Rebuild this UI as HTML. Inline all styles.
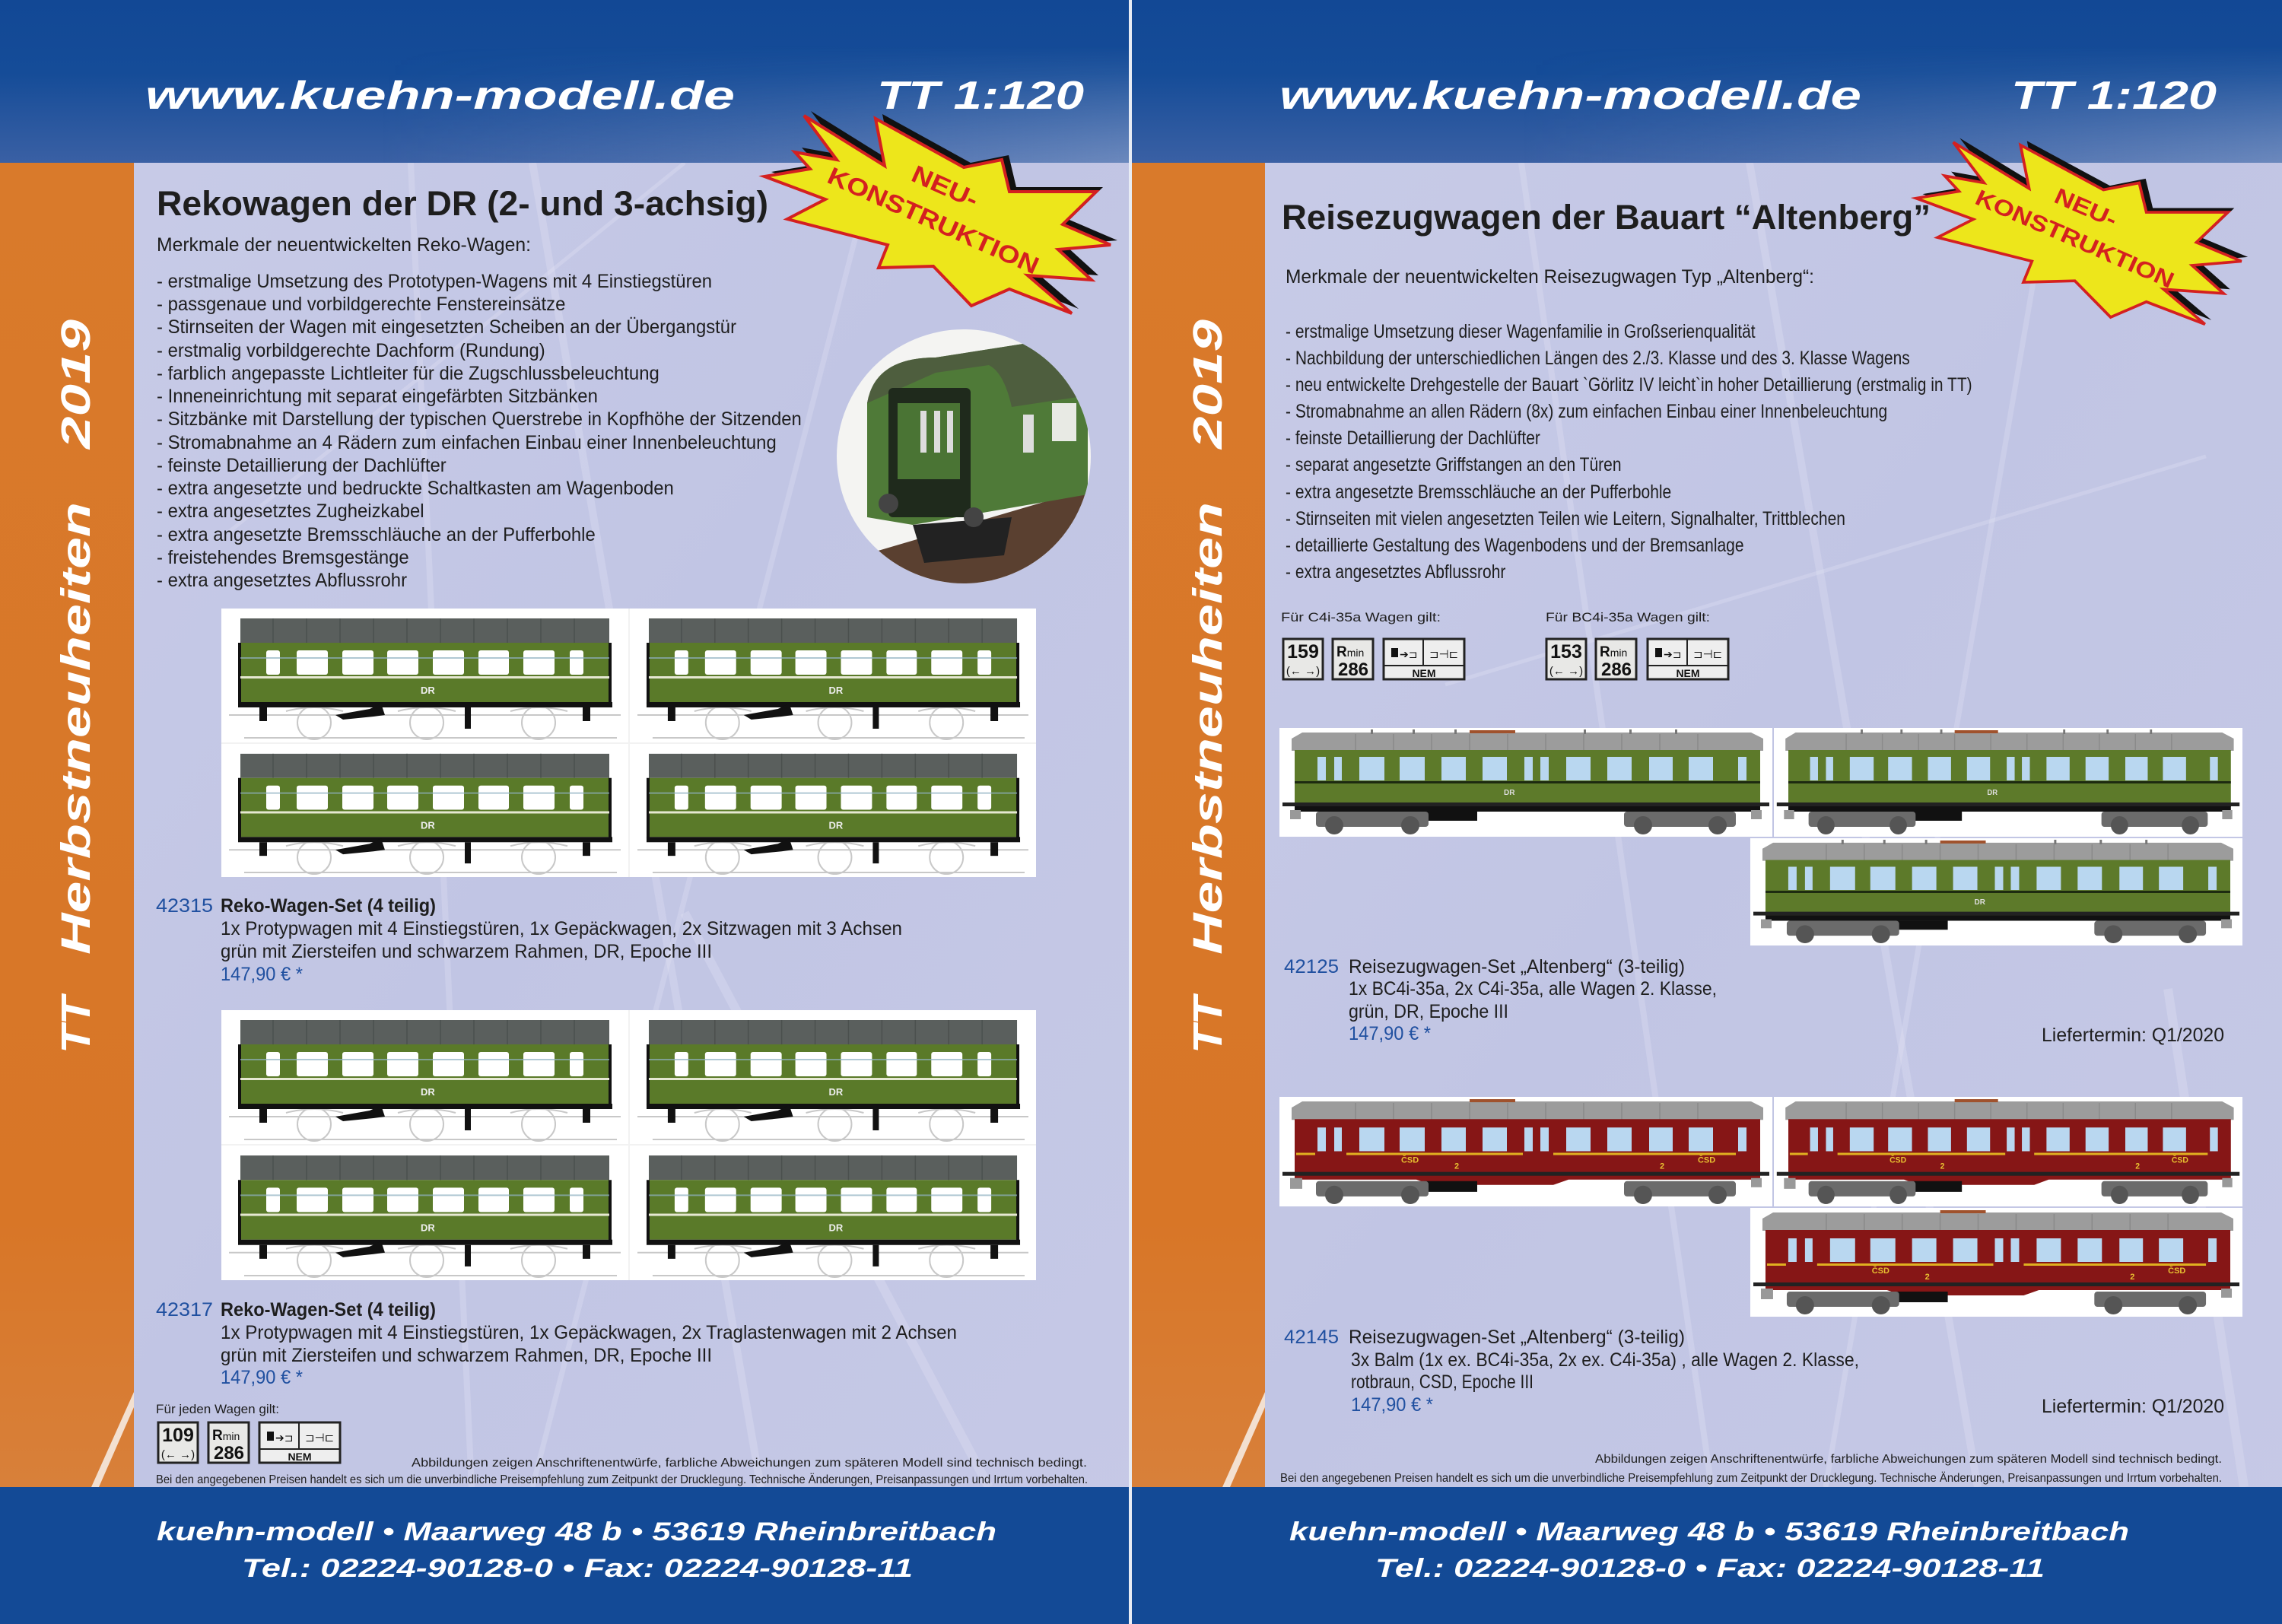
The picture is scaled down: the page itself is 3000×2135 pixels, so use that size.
<!DOCTYPE html>
<html><head><meta charset="utf-8"><style>
html,body{margin:0;padding:0;background:#fff}
svg{display:block}
</style></head><body>
<svg width="3000" height="2135" viewBox="0 0 3000 2135" xmlns="http://www.w3.org/2000/svg" font-family="Liberation Sans, sans-serif">
<defs>
<linearGradient id="hdr" x1="0" y1="0" x2="0" y2="1">
<stop offset="0" stop-color="#124895"/><stop offset="0.45" stop-color="#154c98"/><stop offset="1" stop-color="#3a60a4"/></linearGradient>
<linearGradient id="hdr2" x1="0" y1="0" x2="1" y2="0">
<stop offset="0" stop-color="#8fa6d0" stop-opacity="0"/><stop offset="0.6" stop-color="#8fa6d0" stop-opacity="0.3"/><stop offset="1" stop-color="#a9bbdc" stop-opacity="0.45"/></linearGradient>
<linearGradient id="hdrfade" x1="0" y1="0" x2="0" y2="1">
<stop offset="0" stop-color="#fff" stop-opacity="0"/><stop offset="1" stop-color="#fff" stop-opacity="1"/></linearGradient>
<mask id="fm"><rect x="0" y="60" width="3000" height="154" fill="url(#hdrfade)"/></mask>
<linearGradient id="cnt" x1="0" y1="0" x2="1" y2="1">
<stop offset="0" stop-color="#c9cce8"/><stop offset="0.5" stop-color="#c1c5e4"/><stop offset="1" stop-color="#c6c9e6"/></linearGradient>
<linearGradient id="org" x1="0" y1="0" x2="0" y2="1">
<stop offset="0" stop-color="#d97a2b"/><stop offset="0.8" stop-color="#d87627"/><stop offset="1" stop-color="#d8803a"/></linearGradient>

<symbol id="reko" viewBox="0 0 535 176" preserveAspectRatio="none">
<rect width="535" height="176" fill="#fff"/>
<g stroke="#c8c8c8" stroke-width="2" fill="none">
<circle cx="122" cy="150" r="22"/><circle cx="270" cy="150" r="22"/><circle cx="417" cy="150" r="22"/>
<path d="M10 140 H525 M30 170 H520 M85 135 Q122 125 160 135 M232 135 Q270 125 308 135 M380 135 Q417 125 455 135"/></g>
<rect x="25" y="13" width="485" height="32" fill="#5a5f5d"/>
<g stroke="#4b504e" stroke-width="1.5"><path d="M68 13V45M112 13V45M156 13V45M200 13V45M244 13V45M288 13V45M332 13V45M376 13V45M420 13V45M464 13V45"/></g>
<rect x="25" y="45" width="485" height="78" fill="#5a7a29"/>
<rect x="22" y="45" width="4" height="80" fill="#111"/><rect x="509" y="45" width="4" height="80" fill="#111"/>
<g fill="#fff"><rect x="59" y="55" width="18" height="32" rx="3"/><rect x="99" y="55" width="41" height="32" rx="3"/><rect x="159" y="55" width="41" height="32" rx="3"/><rect x="218" y="55" width="41" height="32" rx="3"/><rect x="278" y="55" width="41" height="32" rx="3"/><rect x="338" y="55" width="40" height="32" rx="3"/><rect x="397" y="55" width="41" height="32" rx="3"/><rect x="458" y="55" width="18" height="32" rx="3"/></g>
<rect x="25" y="64" width="485" height="2" fill="#8fb0c0" opacity="0.7"/>
<rect x="25" y="89" width="485" height="3" fill="#e6e8d2"/>
<text x="262" y="112" font-size="13" font-weight="bold" fill="#eee">DR</text>
<rect x="22" y="123" width="492" height="7" fill="#111"/>
<rect x="50" y="130" width="10" height="18" fill="#111"/><rect x="475" y="130" width="10" height="18" fill="#111"/>
<path d="M150 140 L195 132 L210 125 L215 140 L200 142 L160 146Z" fill="#111"/>
<rect x="320" y="130" width="8" height="28" fill="#111"/>
</symbol>

<symbol id="alt" viewBox="0 0 648 143" preserveAspectRatio="none">
<rect width="648" height="143" fill="#fff"/>
<path d="M16 14 L30 6 H620 L636 14 L636 30 H16Z" fill="#9c9c9c"/>
<g stroke="#8a8a8a" stroke-width="1.5"><path d="M100 8V30M150 8V30M200 8V30M250 8V30M300 8V30M350 8V30M400 8V30M450 8V30M500 8V30M550 8V30"/></g>
<g fill="#777"><rect x="120" y="2" width="3" height="6"/><rect x="175" y="2" width="3" height="6"/><rect x="230" y="2" width="3" height="6"/><rect x="400" y="2" width="3" height="6"/><rect x="460" y="2" width="3" height="6"/><rect x="520" y="2" width="3" height="6"/></g>
<rect x="250" y="3" width="60" height="4" fill="#a0522d"/>
<rect x="20" y="29" width="612" height="75" fill="#5d7a2a"/>
<rect x="4" y="98" width="640" height="5" fill="#222"/>
<g fill="#b9d7f0"><rect x="50" y="38" width="11" height="31"/><rect x="72" y="38" width="10" height="31"/><rect x="105" y="38" width="33" height="31"/><rect x="158" y="38" width="33" height="31"/><rect x="213" y="38" width="32" height="31"/><rect x="267" y="38" width="32" height="31"/><rect x="322" y="38" width="11" height="31"/><rect x="343" y="38" width="11" height="31"/><rect x="377" y="38" width="32" height="31"/><rect x="431" y="38" width="32" height="31"/><rect x="486" y="38" width="31" height="31"/><rect x="538" y="38" width="32" height="31"/><rect x="603" y="38" width="11" height="31"/></g>
<rect x="20" y="70" width="612" height="3" fill="#1d2a10"/>
<text x="295" y="88" font-size="10" font-weight="bold" fill="#ddd">DR</text>
<rect x="20" y="103" width="612" height="7" fill="#111"/>
<rect x="190" y="110" width="70" height="12" fill="#111"/>
<g fill="#6b6b6b"><rect x="48" y="110" width="148" height="20" rx="4"/><rect x="453" y="110" width="147" height="20" rx="4"/></g>
<g fill="#555"><circle cx="72" cy="128" r="12"/><circle cx="172" cy="128" r="12"/><circle cx="478" cy="128" r="12"/><circle cx="576" cy="128" r="12"/></g>
<rect x="14" y="108" width="14" height="12" fill="#999"/><rect x="620" y="108" width="14" height="12" fill="#999"/>
</symbol>

<symbol id="red" viewBox="0 0 648 143" preserveAspectRatio="none">
<rect width="648" height="143" fill="#fff"/>
<path d="M16 14 L30 6 H620 L636 14 L636 30 H16Z" fill="#9c9c9c"/>
<g stroke="#8a8a8a" stroke-width="1.5"><path d="M100 8V30M150 8V30M200 8V30M250 8V30M300 8V30M350 8V30M400 8V30M450 8V30M500 8V30M550 8V30"/></g>
<rect x="250" y="3" width="60" height="4" fill="#a0522d"/>
<path d="M20 29 H632 V108 H380 L360 115 H200 L180 108 H20Z" fill="#861616"/>
<rect x="4" y="98" width="640" height="5" fill="#222"/>
<g fill="#b9d7f0"><rect x="50" y="40" width="11" height="31"/><rect x="72" y="40" width="10" height="31"/><rect x="105" y="40" width="33" height="31"/><rect x="158" y="40" width="33" height="31"/><rect x="213" y="40" width="32" height="31"/><rect x="267" y="40" width="32" height="31"/><rect x="322" y="40" width="11" height="31"/><rect x="343" y="40" width="11" height="31"/><rect x="377" y="40" width="32" height="31"/><rect x="431" y="40" width="32" height="31"/><rect x="486" y="40" width="31" height="31"/><rect x="538" y="40" width="32" height="31"/><rect x="603" y="40" width="11" height="31"/></g>
<g fill="#e0b020"><rect x="22" y="73" width="25" height="3"/><rect x="88" y="73" width="232" height="3"/><rect x="360" y="73" width="240" height="3"/></g>
<g font-size="11" font-weight="bold" fill="#e8c030"><text x="160" y="86">ČSD</text><text x="230" y="94">2</text><text x="500" y="94">2</text><text x="550" y="86">ČSD</text></g>
<rect x="190" y="110" width="70" height="14" fill="#111"/>
<g fill="#6b6b6b"><rect x="48" y="110" width="148" height="20" rx="4"/><rect x="453" y="110" width="147" height="20" rx="4"/></g>
<g fill="#555"><circle cx="72" cy="128" r="12"/><circle cx="172" cy="128" r="12"/><circle cx="478" cy="128" r="12"/><circle cx="576" cy="128" r="12"/></g>
<rect x="14" y="106" width="16" height="14" fill="#999"/><rect x="620" y="106" width="14" height="12" fill="#999"/>
</symbol>

<clipPath id="circ"><circle cx="1267" cy="600" r="167"/></clipPath>
</defs>

<!-- ============ LEFT PAGE ============ -->
<rect x="0" y="0" width="1484" height="2135" fill="url(#cnt)"/>
<g stroke="#e4e6f5" stroke-opacity="0.3" fill="none">
<path d="M540 214 L620 1955" stroke-width="8"/><path d="M700 214 L1000 1955" stroke-width="10"/>
<path d="M1150 214 L700 1955" stroke-width="7"/><path d="M300 700 L900 214" stroke-width="5"/>
<path d="M900 1200 L1300 1955" stroke-width="12"/></g>
<rect x="0" y="0" width="1484" height="214" fill="url(#hdr)"/>
<rect x="500" y="60" width="984" height="154" fill="url(#hdr2)" mask="url(#fm)"/>
<rect x="0" y="214" width="176" height="1741" fill="url(#org)"/>
<path d="M176 1830 L120 1955 L130 1955 L176 1850Z" fill="#f3e0d0"/>
<rect x="0" y="1955" width="1484" height="180" fill="#134a96"/>

<g font-weight="bold" font-style="italic" fill="#fff">
<text x="191" y="143" font-size="52" textLength="775" lengthAdjust="spacingAndGlyphs">www.kuehn-modell.de</text>
<text x="1153" y="143" font-size="52" textLength="272" lengthAdjust="spacingAndGlyphs">TT 1:120</text>
<text transform="translate(118,1385) rotate(-90)" font-size="54" textLength="75" lengthAdjust="spacingAndGlyphs">TT</text>
<text transform="translate(118,1255) rotate(-90)" font-size="54" textLength="595" lengthAdjust="spacingAndGlyphs">Herbstneuheiten</text>
<text transform="translate(118,590) rotate(-90)" font-size="54" textLength="170" lengthAdjust="spacingAndGlyphs">2019</text>
<text x="206" y="2025" font-size="34" textLength="1104" lengthAdjust="spacingAndGlyphs">kuehn-modell • Maarweg 48 b • 53619 Rheinbreitbach</text>
<text x="318" y="2073" font-size="34" textLength="882" lengthAdjust="spacingAndGlyphs">Tel.: 02224-90128-0 • Fax: 02224-90128-11</text>
</g>

<text x="206" y="283" font-size="45" font-weight="bold" fill="#1e1e1e" textLength="804" lengthAdjust="spacingAndGlyphs">Rekowagen der DR (2- und 3-achsig)</text>
<text x="206" y="330" font-size="25" fill="#1e1e1e" textLength="492" lengthAdjust="spacingAndGlyphs">Merkmale der neuentwickelten Reko-Wagen:</text>
<g transform="translate(206,0) scale(0.955,1)" font-size="25" fill="#1e1e1e">
<text x="0" y="378">- erstmalige Umsetzung des Prototypen-Wagens mit 4 Einstiegstüren</text>
<text x="0" y="408">- passgenaue und vorbildgerechte Fenstereinsätze</text>
<text x="0" y="438">- Stirnseiten der Wagen mit eingesetzten Scheiben an der Übergangstür</text>
<text x="0" y="469">- erstmalig vorbildgerechte Dachform (Rundung)</text>
<text x="0" y="499">- farblich angepasste Lichtleiter für die Zugschlussbeleuchtung</text>
<text x="0" y="529">- Inneneinrichtung mit separat eingefärbten Sitzbänken</text>
<text x="0" y="559">- Sitzbänke mit Darstellung der typischen Querstrebe in Kopfhöhe der Sitzenden</text>
<text x="0" y="590">- Stromabnahme an 4 Rädern zum einfachen Einbau einer Innenbeleuchtung</text>
<text x="0" y="620">- feinste Detaillierung der Dachlüfter</text>
<text x="0" y="650">- extra angesetzte und bedruckte Schaltkasten am Wagenboden</text>
<text x="0" y="680">- extra angesetztes Zugheizkabel</text>
<text x="0" y="711">- extra angesetzte Bremsschläuche an der Pufferbohle</text>
<text x="0" y="741">- freistehendes Bremsgestänge</text>
<text x="0" y="771">- extra angesetztes Abflussrohr</text>
</g>

<!-- circle photo -->
<circle cx="1267" cy="600" r="167" fill="#f4f4f2"/>
<g clip-path="url(#circ)">
<path d="M1100 740 L1440 640 L1440 780 L1100 780Z" fill="#5a4030"/>
<path d="M1140 530 Q1150 470 1230 470 L1390 445 Q1420 450 1430 520 L1430 650 L1200 690 L1140 680Z" fill="#4f7a38"/>
<path d="M1140 530 Q1150 470 1230 470 L1390 445 Q1420 450 1430 520 L1330 535 Q1320 490 1300 480 L1230 490Z" fill="#4e5e3e"/>
<rect x="1168" y="510" width="108" height="170" fill="#1f2a1c" rx="6"/>
<rect x="1180" y="530" width="82" height="100" fill="#4a7434"/>
<g fill="#ddd"><rect x="1210" y="540" width="8" height="55"/><rect x="1228" y="540" width="8" height="55"/><rect x="1245" y="540" width="8" height="55"/></g>
<rect x="1383" y="530" width="32" height="50" fill="#e8eae4"/>
<rect x="1345" y="545" width="14" height="50" fill="#ddd"/>
<path d="M1200 690 L1330 680 L1320 730 L1215 740Z" fill="#222"/>
<circle cx="1168" cy="662" r="13" fill="#444"/><circle cx="1280" cy="680" r="13" fill="#444"/>
</g>

<!-- star left -->
<g transform="translate(1005,140)">
<polygon transform="translate(9,-6)" fill="#111" points="52,12 158,78 146,16 262,80 312,70 322,112 436,112 392,155 455,182 386,188 430,228 346,222 404,272 322,240 272,262 222,210 150,212 162,182 30,148 80,122 0,92 60,82 40,60 95,70"/>
<polygon fill="#ede61b" stroke="#d42020" stroke-width="4" points="52,12 158,78 146,16 262,80 312,70 322,112 436,112 392,155 455,182 386,188 430,228 346,222 404,272 322,240 272,262 222,210 150,212 162,182 30,148 80,122 0,92 60,82 40,60 95,70"/>
<g transform="translate(222,150) rotate(24)" font-size="32" font-weight="bold" fill="#d42020" text-anchor="middle">
<text x="-4" y="-36" textLength="92" lengthAdjust="spacingAndGlyphs">NEU-</text>
<text x="0" y="11" textLength="300" lengthAdjust="spacingAndGlyphs">KONSTRUKTION</text></g>
</g>

<!-- reko panels -->
<rect x="291" y="800" width="1071" height="353" fill="#f2f2f2"/>
<use href="#reko" x="291" y="800" width="535" height="176"/>
<use href="#reko" x="828" y="800" width="534" height="176"/>
<use href="#reko" x="291" y="978" width="535" height="175"/>
<use href="#reko" x="828" y="978" width="534" height="175"/>
<rect x="291" y="1328" width="1071" height="355" fill="#f2f2f2"/>
<use href="#reko" x="291" y="1328" width="535" height="176"/>
<use href="#reko" x="828" y="1328" width="534" height="176"/>
<use href="#reko" x="291" y="1506" width="535" height="177"/>
<use href="#reko" x="828" y="1506" width="534" height="177"/>

<g font-size="25" fill="#1e1e1e">
<text x="205" y="1199" fill="#2050a0" textLength="75" lengthAdjust="spacingAndGlyphs">42315</text>
<text x="290" y="1199" font-weight="bold" textLength="283" lengthAdjust="spacingAndGlyphs">Reko-Wagen-Set (4 teilig)</text>
<text x="290" y="1229" textLength="896" lengthAdjust="spacingAndGlyphs">1x Protypwagen mit 4 Einstiegstüren, 1x Gepäckwagen, 2x Sitzwagen mit 3 Achsen</text>
<text x="290" y="1259" textLength="646" lengthAdjust="spacingAndGlyphs">grün mit Ziersteifen und schwarzem Rahmen, DR, Epoche III</text>
<text x="290" y="1289" fill="#2050a0" textLength="108" lengthAdjust="spacingAndGlyphs">147,90 € *</text>
<text x="205" y="1730" fill="#2050a0" textLength="75" lengthAdjust="spacingAndGlyphs">42317</text>
<text x="290" y="1730" font-weight="bold" textLength="283" lengthAdjust="spacingAndGlyphs">Reko-Wagen-Set (4 teilig)</text>
<text x="290" y="1760" textLength="968" lengthAdjust="spacingAndGlyphs">1x Protypwagen mit 4 Einstiegstüren, 1x Gepäckwagen, 2x Traglastenwagen mit 2 Achsen</text>
<text x="290" y="1790" textLength="646" lengthAdjust="spacingAndGlyphs">grün mit Ziersteifen und schwarzem Rahmen, DR, Epoche III</text>
<text x="290" y="1819" fill="#2050a0" textLength="108" lengthAdjust="spacingAndGlyphs">147,90 € *</text>
</g>
<text x="205" y="1858" font-size="17" fill="#1e1e1e" textLength="162" lengthAdjust="spacingAndGlyphs">Für jeden Wagen gilt:</text>
<!-- icons left -->
<g transform="translate(207,1869)" fill="#111">
<rect x="1" y="1" width="52" height="53" fill="#e8e8e6" stroke="#222" stroke-width="3"/>
<text x="27" y="26" font-size="25" font-weight="bold" text-anchor="middle">109</text>
<text x="27" y="48" font-size="15" text-anchor="middle">(←  →)</text>
<rect x="67" y="1" width="53" height="53" fill="#e8e8e6" stroke="#222" stroke-width="3"/>
<text x="72" y="24" font-size="19" font-weight="bold">R<tspan font-size="14" font-weight="normal">min</tspan></text>
<text x="94" y="49" font-size="24" font-weight="bold" text-anchor="middle">286</text>
<rect x="134" y="1" width="106" height="53" fill="#eee" stroke="#222" stroke-width="3"/>
<path d="M186 1V36M134 36H240" stroke="#222" stroke-width="2"/>
<rect x="144" y="13" width="9" height="12"/><text x="155" y="26" font-size="14">➔⊐</text>
<text x="194" y="26" font-size="15">⊐⊣⊏</text>
<text x="187" y="51" font-size="14" font-weight="bold" text-anchor="middle">NEM</text>
</g>
<text x="1429" y="1928" font-size="16" fill="#1e1e1e" text-anchor="end" textLength="888" lengthAdjust="spacingAndGlyphs">Abbildungen zeigen Anschriftenentwürfe, farbliche Abweichungen zum späteren Modell sind technisch bedingt.</text>
<text x="205" y="1950" font-size="16" fill="#1e1e1e" textLength="1225" lengthAdjust="spacingAndGlyphs">Bei den angegebenen Preisen handelt es sich um die unverbindliche Preisempfehlung zum Zeitpunkt der Drucklegung.  Technische Änderungen, Preisanpassungen und Irrtum vorbehalten.</text>

<!-- divider -->
<rect x="1484" y="0" width="4" height="2135" fill="#e8ecf4"/>

<!-- ============ RIGHT PAGE ============ -->
<rect x="1488" y="0" width="1512" height="2135" fill="url(#cnt)"/>
<g stroke="#e4e6f5" stroke-opacity="0.3" fill="none">
<path d="M2000 214 L2250 1955" stroke-width="8"/><path d="M2300 214 L2600 1955" stroke-width="10"/>
<path d="M2700 214 L2400 1955" stroke-width="7"/><path d="M1900 900 L2900 600" stroke-width="5"/>
<path d="M2850 1300 L2950 1955" stroke-width="12"/></g>
<rect x="1488" y="0" width="1512" height="214" fill="url(#hdr)"/>
<rect x="2000" y="60" width="1000" height="154" fill="url(#hdr2)" mask="url(#fm)"/>
<rect x="1488" y="214" width="175" height="1741" fill="url(#org)"/>
<path d="M1663 1830 L1607 1955 L1617 1955 L1663 1850Z" fill="#f3e0d0"/>
<rect x="1488" y="1955" width="1512" height="180" fill="#134a96"/>

<g font-weight="bold" font-style="italic" fill="#fff">
<text x="1682" y="143" font-size="52" textLength="765" lengthAdjust="spacingAndGlyphs">www.kuehn-modell.de</text>
<text x="2644" y="143" font-size="52" textLength="270" lengthAdjust="spacingAndGlyphs">TT 1:120</text>
<text transform="translate(1606,1385) rotate(-90)" font-size="54" textLength="75" lengthAdjust="spacingAndGlyphs">TT</text>
<text transform="translate(1606,1255) rotate(-90)" font-size="54" textLength="595" lengthAdjust="spacingAndGlyphs">Herbstneuheiten</text>
<text transform="translate(1606,590) rotate(-90)" font-size="54" textLength="170" lengthAdjust="spacingAndGlyphs">2019</text>
<text x="1695" y="2025" font-size="34" textLength="1104" lengthAdjust="spacingAndGlyphs">kuehn-modell • Maarweg 48 b • 53619 Rheinbreitbach</text>
<text x="1808" y="2073" font-size="34" textLength="880" lengthAdjust="spacingAndGlyphs">Tel.: 02224-90128-0 • Fax: 02224-90128-11</text>
</g>

<text x="1685" y="301" font-size="45" font-weight="bold" fill="#1e1e1e" textLength="853" lengthAdjust="spacingAndGlyphs">Reisezugwagen der Bauart “Altenberg”</text>
<text x="1690" y="372" font-size="25" fill="#1e1e1e" textLength="695" lengthAdjust="spacingAndGlyphs">Merkmale der neuentwickelten Reisezugwagen Typ „Altenberg“:</text>
<g transform="translate(1690,0) scale(0.84,1)" font-size="25" fill="#1e1e1e">
<text x="0" y="444">- erstmalige Umsetzung dieser Wagenfamilie in Großserienqualität</text>
<text x="0" y="479">- Nachbildung der unterschiedlichen Längen des 2./3. Klasse und des 3. Klasse Wagens</text>
<text x="0" y="514">- neu entwickelte Drehgestelle der Bauart `Görlitz IV leicht`in hoher Detaillierung (erstmalig in TT)</text>
<text x="0" y="549">- Stromabnahme an allen Rädern (8x) zum einfachen Einbau einer Innenbeleuchtung</text>
<text x="0" y="584">- feinste Detaillierung der Dachlüfter</text>
<text x="0" y="619">- separat angesetzte Griffstangen an den Türen</text>
<text x="0" y="655">- extra angesetzte Bremsschläuche an der Pufferbohle</text>
<text x="0" y="690">- Stirnseiten mit vielen angesetzten Teilen wie Leitern, Signalhalter, Trittblechen</text>
<text x="0" y="725">- detaillierte Gestaltung des Wagenbodens und der Bremsanlage</text>
<text x="0" y="760">- extra angesetztes Abflussrohr</text>
</g>

<!-- star right -->
<g transform="translate(2519,176) scale(0.94,0.92)">
<polygon transform="translate(9,-6)" fill="#111" points="52,12 158,78 146,16 262,80 312,70 322,112 436,112 392,155 455,182 386,188 430,228 346,222 404,272 322,240 272,262 222,210 150,212 162,182 30,148 80,122 0,92 60,82 40,60 95,70"/>
<polygon fill="#ede61b" stroke="#d42020" stroke-width="4" points="52,12 158,78 146,16 262,80 312,70 322,112 436,112 392,155 455,182 386,188 430,228 346,222 404,272 322,240 272,262 222,210 150,212 162,182 30,148 80,122 0,92 60,82 40,60 95,70"/>
<g transform="translate(222,150) rotate(24)" font-size="32" font-weight="bold" fill="#d42020" text-anchor="middle">
<text x="-4" y="-36" textLength="92" lengthAdjust="spacingAndGlyphs">NEU-</text>
<text x="0" y="11" textLength="300" lengthAdjust="spacingAndGlyphs">KONSTRUKTION</text></g>
</g>

<g font-size="17" fill="#1e1e1e">
<text x="1684" y="817" textLength="210" lengthAdjust="spacingAndGlyphs">Für C4i-35a  Wagen gilt:</text>
<text x="2032" y="817" textLength="216" lengthAdjust="spacingAndGlyphs">Für BC4i-35a  Wagen gilt:</text>
</g>
<g transform="translate(1686,839)" fill="#111">
<rect x="1" y="1" width="52" height="53" fill="#e8e8e6" stroke="#222" stroke-width="3"/>
<text x="27" y="26" font-size="25" font-weight="bold" text-anchor="middle">159</text>
<text x="27" y="48" font-size="15" text-anchor="middle">(←  →)</text>
<rect x="66" y="1" width="53" height="53" fill="#e8e8e6" stroke="#222" stroke-width="3"/>
<text x="71" y="24" font-size="19" font-weight="bold">R<tspan font-size="14" font-weight="normal">min</tspan></text>
<text x="93" y="49" font-size="24" font-weight="bold" text-anchor="middle">286</text>
<rect x="133" y="1" width="106" height="53" fill="#eee" stroke="#222" stroke-width="3"/>
<path d="M185 1V36M133 36H239" stroke="#222" stroke-width="2"/>
<rect x="143" y="13" width="9" height="12"/><text x="154" y="26" font-size="14">➔⊐</text>
<text x="193" y="26" font-size="15">⊐⊣⊏</text>
<text x="186" y="51" font-size="14" font-weight="bold" text-anchor="middle">NEM</text>
</g>
<g transform="translate(2032,839)" fill="#111">
<rect x="1" y="1" width="52" height="53" fill="#e8e8e6" stroke="#222" stroke-width="3"/>
<text x="27" y="26" font-size="25" font-weight="bold" text-anchor="middle">153</text>
<text x="27" y="48" font-size="15" text-anchor="middle">(←  →)</text>
<rect x="66" y="1" width="53" height="53" fill="#e8e8e6" stroke="#222" stroke-width="3"/>
<text x="71" y="24" font-size="19" font-weight="bold">R<tspan font-size="14" font-weight="normal">min</tspan></text>
<text x="93" y="49" font-size="24" font-weight="bold" text-anchor="middle">286</text>
<rect x="134" y="1" width="106" height="53" fill="#eee" stroke="#222" stroke-width="3"/>
<path d="M186 1V36M134 36H240" stroke="#222" stroke-width="2"/>
<rect x="144" y="13" width="9" height="12"/><text x="155" y="26" font-size="14">➔⊐</text>
<text x="194" y="26" font-size="15">⊐⊣⊏</text>
<text x="187" y="51" font-size="14" font-weight="bold" text-anchor="middle">NEM</text>
</g>

<use href="#alt" x="1682" y="957" width="648" height="143"/>
<use href="#alt" x="2332" y="957" width="616" height="143"/>
<use href="#alt" x="2301" y="1102" width="647" height="141"/>
<use href="#red" x="1682" y="1442" width="648" height="144"/>
<use href="#red" x="2332" y="1442" width="616" height="144"/>
<use href="#red" x="2301" y="1588" width="647" height="143"/>

<g font-size="25" fill="#1e1e1e">
<text x="1688" y="1279" fill="#2050a0" textLength="72" lengthAdjust="spacingAndGlyphs">42125</text>
<text x="1773" y="1279" textLength="442" lengthAdjust="spacingAndGlyphs">Reisezugwagen-Set „Altenberg“ (3-teilig)</text>
<text x="1773" y="1308" textLength="484" lengthAdjust="spacingAndGlyphs">1x BC4i-35a, 2x C4i-35a, alle Wagen 2. Klasse,</text>
<text x="1773" y="1338" textLength="210" lengthAdjust="spacingAndGlyphs">grün, DR, Epoche III</text>
<text x="1773" y="1367" fill="#2050a0" textLength="108" lengthAdjust="spacingAndGlyphs">147,90 € *</text>
<text x="2924" y="1369" text-anchor="end" textLength="240" lengthAdjust="spacingAndGlyphs">Liefertermin: Q1/2020</text>
<text x="1688" y="1766" fill="#2050a0" textLength="72" lengthAdjust="spacingAndGlyphs">42145</text>
<text x="1773" y="1766" textLength="442" lengthAdjust="spacingAndGlyphs">Reisezugwagen-Set „Altenberg“ (3-teilig)</text>
<text x="1776" y="1796" textLength="668" lengthAdjust="spacingAndGlyphs">3x Balm (1x ex. BC4i-35a, 2x ex. C4i-35a) , alle Wagen 2. Klasse,</text>
<text x="1776" y="1825" textLength="240" lengthAdjust="spacingAndGlyphs">rotbraun, CSD, Epoche III</text>
<text x="1776" y="1855" fill="#2050a0" textLength="108" lengthAdjust="spacingAndGlyphs">147,90 € *</text>
<text x="2924" y="1857" text-anchor="end" textLength="240" lengthAdjust="spacingAndGlyphs">Liefertermin: Q1/2020</text>
</g>
<text x="2921" y="1923" font-size="16" fill="#1e1e1e" text-anchor="end" textLength="824" lengthAdjust="spacingAndGlyphs">Abbildungen zeigen Anschriftenentwürfe, farbliche Abweichungen zum späteren Modell sind technisch bedingt.</text>
<text x="1683" y="1948" font-size="16" fill="#1e1e1e" textLength="1238" lengthAdjust="spacingAndGlyphs">Bei den angegebenen Preisen handelt es sich um die unverbindliche Preisempfehlung zum Zeitpunkt der Drucklegung.  Technische Änderungen, Preisanpassungen und Irrtum vorbehalten.</text>
</svg>
</body></html>
